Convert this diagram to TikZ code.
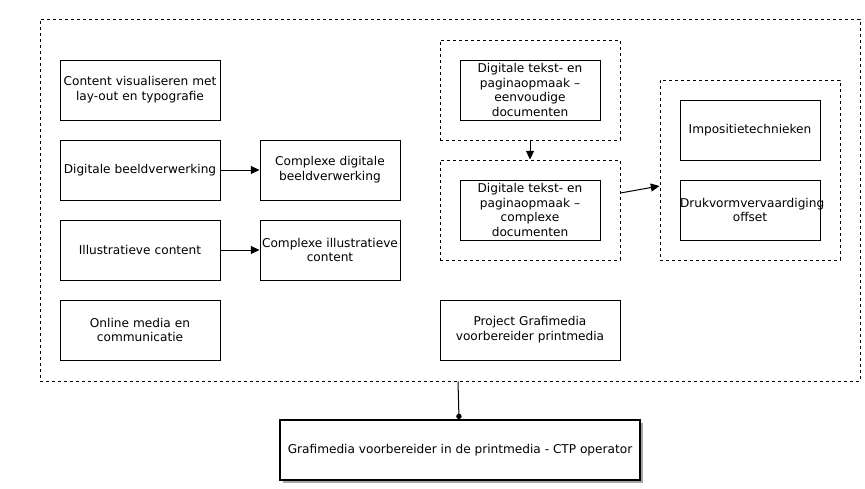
\documentclass[tikz,border=0pt]{standalone}
\usepackage{fontspec}
\setmainfont{DejaVu Sans}
\usetikzlibrary{arrows.meta,shadows}
\begin{document}
\begin{tikzpicture}[x=0.75pt,y=-0.75pt,
  every node/.style={font=\fontsize{9.1pt}{11.2pt}\selectfont, align=center, inner sep=1pt},
  box/.style={draw, line width=0.75pt, fill=white},
  grp/.style={draw, line width=0.75pt, dash pattern=on 2.25pt off 2.25pt},
  arr/.style={line width=0.75pt, -{Triangle[length=6.5pt,width=6pt]}},
  wA/.style={minimum width=120pt, minimum height=45pt, text width=116pt},
  wB/.style={minimum width=105pt, minimum height=45pt, text width=103pt},
  wC/.style={minimum width=135pt, minimum height=45pt, text width=131pt},
  wG/.style={minimum width=135pt, minimum height=75pt},
  wH/.style={minimum width=135pt, minimum height=135pt}]
\useasboundingbox (0,0) rectangle (865,489);
% outer group
\node[grp, minimum width=615pt, minimum height=271.5pt] (outer) at (450,200) {};
% left column
\node[box, wA] (cv) at (140,90) {Content visualiseren met\\lay-out en typografie};
\node[box, wA] (db) at (140,170) {Digitale beeldverwerking};
\node[box, wB] (cdb) at (330,170) {Complexe digitale\\beeldverwerking};
\node[box, wA] (ic) at (140,250) {Illustratieve content};
\node[box, wB] (cic) at (330,250) {Complexe illustratieve\\content};
\node[box, wA] (om) at (140,330) {Online media en\\communicatie};
% middle column
\node[grp, wG] (g1) at (530,90) {};
\node[box, wB] (t1) at (530,90) {Digitale tekst- en\\paginaopmaak –\\eenvoudige\\documenten};
\node[grp, wG] (g2) at (530,210) {};
\node[box, wB] (t2) at (530,210) {Digitale tekst- en\\paginaopmaak –\\complexe\\documenten};
\node[box, wC] (pg) at (530,330) {Project Grafimedia\\voorbereider printmedia};
% right group
\node[grp, wH] (g3) at (750,170) {};
\node[box, wB] (im) at (750,130) {Impositietechnieken};
\node[box, wB, text width=105pt, inner sep=0pt] (dr) at (750,210) {Drukvormvervaardiging\\offset};
% final box
\node[draw, line width=1.5pt, fill=white, minimum width=270pt, minimum height=45pt,
  drop shadow={shadow xshift=2.5pt, shadow yshift=-2.5pt, fill=gray!70, opacity=1}] (fin) at (460,450)
  {Grafimedia voorbereider in de printmedia - CTP operator};
% connectors
\draw[arr] (db) -- (cdb);
\draw[arr] (ic) -- (cic);
\draw[arr] (g1) -- (g2);
\draw[arr] ([yshift=12.75pt]g2.east) -- ([yshift=-12pt]g3.west);
\draw[line width=0.75pt, -{Circle[length=4pt]}] ([xshift=6pt]outer.south) -- ([xshift=-0.75pt]fin.north);
\end{tikzpicture}
\end{document}
